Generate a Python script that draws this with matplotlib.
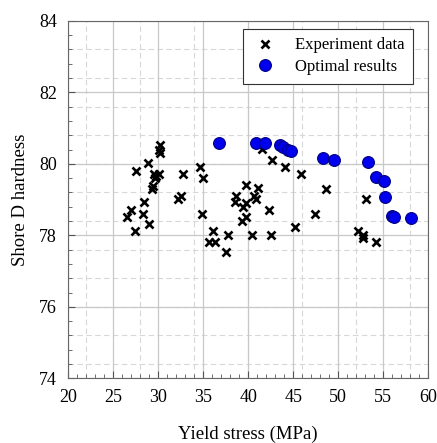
import matplotlib.pyplot as plt
import numpy as np

# experiment data (yield stress MPa, Shore D hardness)
exp_x = [30.2, 30.1, 30.2, 28.9, 27.5, 29.55, 29.8, 30.1, 29.6, 29.4, 29.3,
         32.8, 32.5, 32.2, 28.4, 27.0, 26.5, 28.3, 29.0, 27.4,
         41.5, 42.6, 44.1, 45.9, 34.6, 35.0, 39.8, 41.1, 38.6, 38.5, 40.6,
         40.9, 39.7, 39.4, 42.3, 34.9, 39.8, 39.3, 45.2, 36.1, 37.7, 40.4,
         42.5, 35.6, 36.3, 37.5,
         48.6, 47.4, 53.1, 52.2, 52.7, 52.8, 54.2]
exp_y = [80.52, 80.4, 80.3, 80.02, 79.81, 79.72, 79.66, 79.72, 79.6, 79.38, 79.29,
         79.72, 79.11, 79.01, 78.92, 78.71, 78.51, 78.6, 78.31, 78.11,
         80.41, 80.11, 79.92, 79.72, 79.92, 79.6, 79.41, 79.32, 79.11, 78.92, 79.11,
         79.01, 78.9, 78.8, 78.71, 78.6, 78.51, 78.41, 78.22, 78.11, 78.01, 78.01,
         78.01, 77.81, 77.81, 77.52,
         79.3, 78.6, 79.01, 78.11, 78.01, 77.92, 77.8]

# optimal results
opt_x = [36.7, 40.9, 41.9, 43.5, 43.9, 44.4, 44.7,
         48.3, 49.5, 53.3, 54.2, 55.1, 55.2, 56.0, 56.2, 58.1]
opt_y = [80.59, 80.59, 80.58, 80.53, 80.48, 80.4, 80.37,
         80.16, 80.11, 80.06, 79.63, 79.53, 79.08, 78.55, 78.5, 78.48]

plt.rcParams['font.family'] = ['Liberation Serif', 'DejaVu Serif']

fig = plt.figure(figsize=(4.37, 4.43), dpi=100)
ax = fig.add_axes([0.156, 0.146, 0.824, 0.807])

# dashed minor grid
for gx in [22, 28, 34, 40, 46, 52, 58]:
    ax.axvline(gx, color='#d8d8d8', lw=0.8, ls=(0, (5, 3)), zorder=0)
for gy in np.arange(74.4, 84, 0.8):
    ax.axhline(gy, color='#d8d8d8', lw=0.8, ls=(0, (5, 3)), zorder=0)
# solid major grid
ax.grid(True, which='major', color='#c8c8c8', lw=0.9, zorder=0)
ax.set_axisbelow(True)

ax.plot(exp_x, exp_y, 'x', color='black', ms=6, mew=1.9,
        label='Experiment data', zorder=3)
ax.plot(opt_x, opt_y, 'o', color='#0000ee', mec='#000080', mew=0.8, ms=8.5,
        label='Optimal results', zorder=4)

ax.set_xlim(20, 60)
ax.set_ylim(74, 84)
ax.set_xticks(np.arange(20, 61, 5))
ax.set_yticks(np.arange(74, 85, 2))
ax.set_xticks(np.arange(20, 61, 1), minor=True)
ax.set_yticks(np.arange(74, 84.01, 0.4), minor=True)
ax.tick_params(which='both', direction='in', colors='#555555', labelcolor='black',
               labelsize=13, pad=8)
ax.tick_params(which='major', length=5)
ax.tick_params(which='minor', length=3)
for s in ax.spines.values():
    s.set_color('#666666')

ax.set_xlabel('Yield stress (MPa)', fontsize=13.5, labelpad=14)
ax.set_ylabel('Shore D hardness', fontsize=13.5, labelpad=7)

leg = ax.legend(loc='upper right', bbox_to_anchor=(0.957, 0.977), fontsize=12,
                fancybox=False, edgecolor='#333333', framealpha=1,
                borderaxespad=0, handlelength=1.6, handletextpad=1.0,
                borderpad=0.5, labelspacing=0.35)
leg.get_frame().set_linewidth(0.8)

fig.savefig('out.png', dpi=100)
